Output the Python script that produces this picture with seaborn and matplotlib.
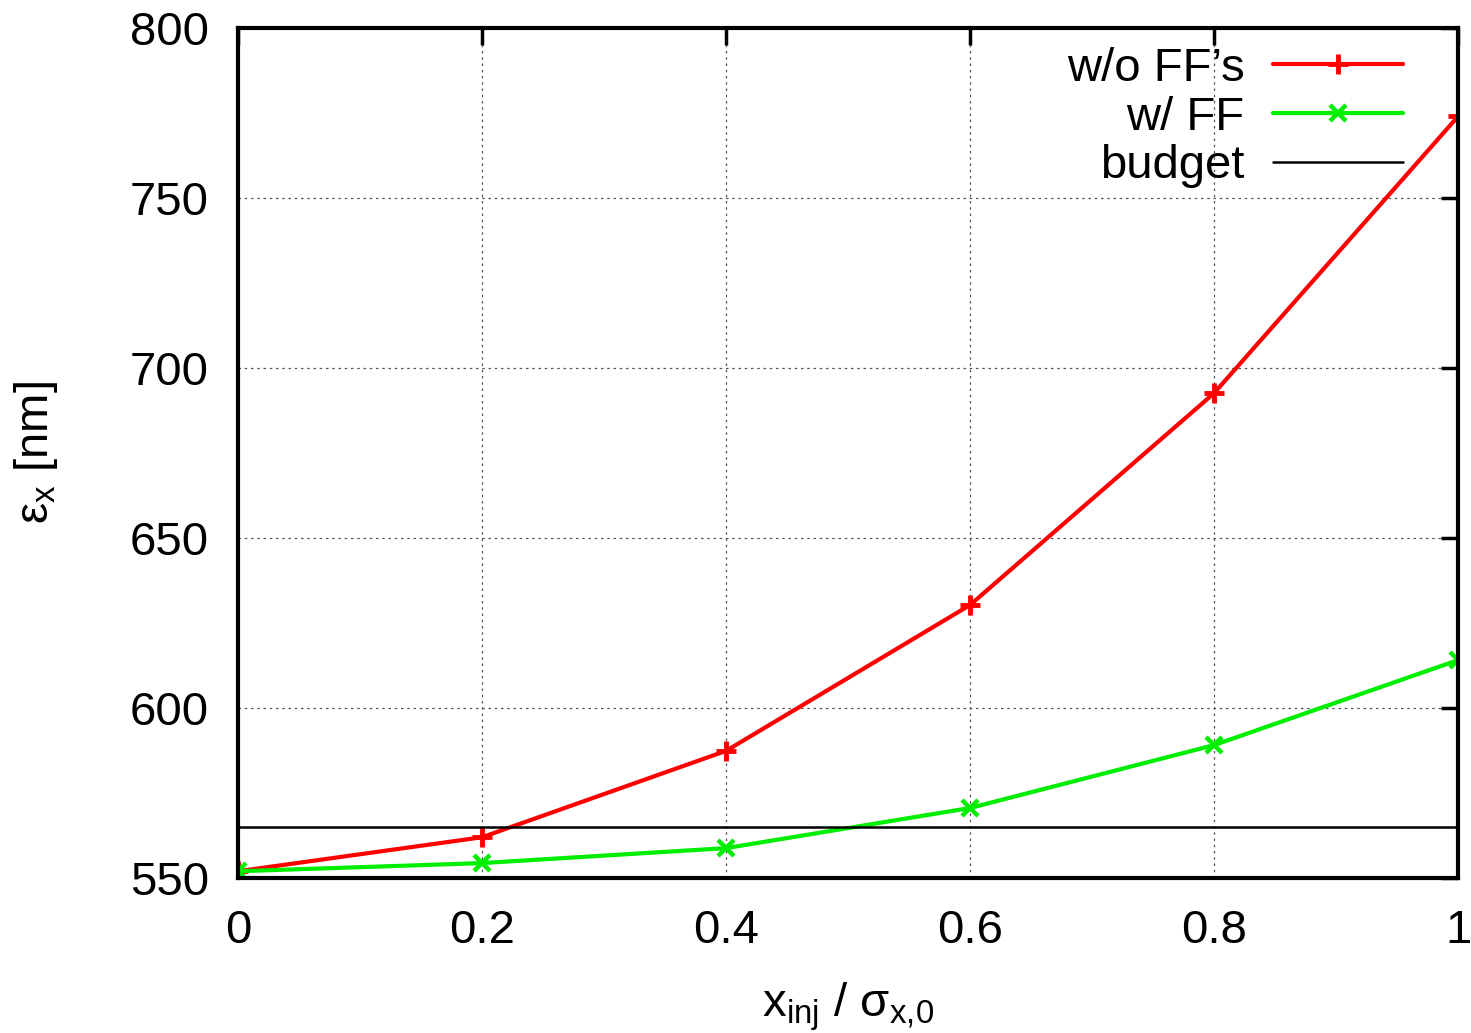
import matplotlib
matplotlib.use("Agg")
import matplotlib.pyplot as plt
import seaborn as sns
import pandas as pd

# data
x_vals = [0.0, 0.2, 0.4, 0.6, 0.8, 1.0]
wo_ff = [552, 562, 587.4, 630.3, 692.6, 774]
w_ff = [552, 554.4, 558.8, 570.6, 589.1, 614.1]
budget = 565

x_ticks = [0, 0.2, 0.4, 0.6, 0.8, 1]
x_tick_labels = ["0", "0.2", "0.4", "0.6", "0.8", "1"]
y_ticks = [550, 600, 650, 700, 750, 800]

df = pd.DataFrame({"x": x_vals, "wo": wo_ff, "w": w_ff})

sns.set_style("white")
plt.rcParams["font.family"] = ["Liberation Sans", "DejaVu Sans"]
plt.rcParams["mathtext.fontset"] = "custom"
plt.rcParams["mathtext.rm"] = "Liberation Sans"
plt.rcParams["text.color"] = "black"
plt.rcParams["axes.labelcolor"] = "black"

fs = 34
red = "#ff0000"
green = "#00ee00"

fig = plt.figure(figsize=(14.71, 10.33), dpi=100)
ax = fig.add_axes([0.1618, 0.15, 0.8294, 0.8229])

sns.lineplot(data=df, x="x", y="wo", ax=ax, color=red, lw=3,
             marker="+", markersize=14, markeredgewidth=3.5,
             markeredgecolor=red, label="w/o FF\u2019s")
sns.lineplot(data=df, x="x", y="w", ax=ax, color=green, lw=3,
             marker="x", markersize=12, markeredgewidth=3.2,
             markeredgecolor=green, label="w/ FF")
ax.axhline(budget, color="black", lw=1.8, label="budget")

ax.set_xlim(0, 1)
ax.set_ylim(550, 800)
ax.set_xticks(x_ticks)
ax.set_xticklabels(x_tick_labels)
ax.set_yticks(y_ticks)

ax.grid(True, color="#555555", linestyle=(0, (2, 3)), lw=0.9)
for s in ax.spines.values():
    s.set_linewidth(3)
    s.set_color("black")
ax.tick_params(direction="in", length=12, width=2.5, labelsize=fs,
               top=True, right=True, colors="black")
ax.tick_params(axis="x", pad=22)
ax.tick_params(axis="y", pad=21)

ax.set_xlabel("x$_{\\mathregular{inj}}$ / \u03c3$_{\\mathregular{x{,}0}}$", fontsize=fs, labelpad=20)
ax.set_ylabel("\u03b5$_{\\mathregular{x}}$ [nm]", fontsize=fs, labelpad=50)

ax.legend(loc="upper right", frameon=False, fontsize=fs, markerfirst=False,
          handlelength=2.75, borderaxespad=0.3, labelspacing=0.1,
          handletextpad=0.6, borderpad=0.1, bbox_to_anchor=(0.97, 1.0))

fig.savefig("out.png", dpi=100)
